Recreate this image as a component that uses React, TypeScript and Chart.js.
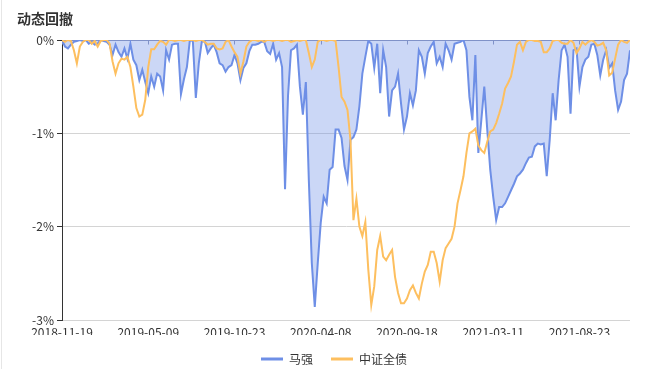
import React, { useEffect, useRef } from 'react';
import { Chart, registerables } from 'chart.js';

Chart.register(...registerables);

// x-axis tick labels (one every 29 samples)
const xTickLabels = ['2018-11-19', '2019-05-09', '2019-10-23', '2020-04-08', '2020-09-18', '2021-03-11', '2021-08-23'];
const samplesPerLabel = 29;

// y-axis ticks (%)
const yTickValues = [0, -1, -2, -3];

const seriesNames = ['马强', '中证全债'];

// 马强 drawdown (%)
const maQiang = [
  0, -0.07, -0.09, -0.05, -0.02, -0.01, 0, -0.01, 0, -0.04,
  -0.02, -0.05, -0.04, 0, -0.01, -0.02, -0.05, -0.16, -0.05, -0.13,
  -0.18, -0.09, -0.2, -0.04, -0.21, -0.27, -0.43, -0.32, -0.45, -0.57,
  -0.39, -0.5, -0.36, -0.39, -0.54, -0.11, -0.21, -0.05, -0.04, -0.04,
  -0.58, -0.42, -0.29, 0, -0.01, -0.62, -0.25, -0.02, -0.01, -0.14,
  -0.09, -0.05, -0.13, -0.25, -0.27, -0.34, -0.29, -0.27, -0.16, -0.25,
  -0.43, -0.3, -0.25, -0.12, -0.05, -0.05, -0.04, -0.02, -0.02, -0.12,
  -0.15, -0.04, -0.21, -0.14, -0.29, -1.6, -0.6, -0.11, -0.09, -0.05,
  -0.5, -0.8, -0.45, -1.5, -2.39, -2.86, -2.39, -1.96, -1.68, -1.75,
  -1.39, -1.36, -0.96, -0.96, -1.05, -1.35, -1.5, -1.07, -1.04, -0.96,
  -0.71, -0.36, -0.18, -0.01, -0.04, -0.3, -0.04, -0.57, -0.11, -0.29,
  -0.82, -0.54, -0.5, -0.36, -0.68, -0.96, -0.82, -0.57, -0.7, -0.54,
  -0.11, -0.18, -0.36, -0.14, -0.07, -0.02, -0.25, -0.18, -0.29, -0.04,
  -0.11, -0.21, -0.04, -0.03, -0.02, 0, -0.11, -0.61, -0.86, -0.16,
  -1.21, -0.86, -0.5, -0.96, -1.39, -1.68, -1.93, -1.79, -1.79, -1.75,
  -1.68, -1.61, -1.54, -1.46, -1.43, -1.39, -1.32, -1.26, -1.25, -1.14,
  -1.11, -1.12, -1.11, -1.46, -1.07, -0.57, -0.86, -0.43, -0.11, -0.05,
  -0.18, -0.79, -0.11, -0.09, -0.5, -0.29, -0.21, -0.18, -0.05, -0.04,
  -0.16, -0.38, -0.21, -0.11, -0.3, -0.25, -0.54, -0.75, -0.66, -0.43,
  -0.36, -0.11,
];

// 中证全债 drawdown (%)
const zhongZheng = [
  0, -0.02, 0, -0.01, -0.11, -0.25, -0.07, -0.02, 0, 0,
  -0.04, -0.01, -0.07, -0.01, 0, 0, -0.04, -0.23, -0.36, -0.25,
  -0.2, -0.21, -0.18, -0.29, -0.5, -0.73, -0.82, -0.8, -0.64, -0.29,
  -0.1, -0.1, -0.05, -0.01, -0.02, -0.05, 0, 0, -0.01, 0,
  0, -0.01, 0, 0, 0, -0.01, 0, 0, -0.02, -0.05,
  -0.04, -0.04, -0.09, -0.1, -0.09, -0.02, 0, -0.07, -0.13, -0.18,
  -0.36, -0.23, -0.07, -0.02, 0, 0, -0.01, 0, -0.02, 0,
  0, -0.01, 0, 0, -0.01, 0, 0, -0.02, -0.01, 0,
  -0.01, 0, 0, -0.14, -0.29, -0.21, -0.02, 0, 0, -0.01,
  0, 0, -0.01, -0.29, -0.61, -0.66, -0.75, -1.07, -1.93, -1.7,
  -2.0, -2.1, -1.95, -2.46, -2.84, -2.64, -2.25, -2.1, -2.32, -2.36,
  -2.3, -2.25, -2.54, -2.71, -2.82, -2.82, -2.77, -2.68, -2.63, -2.71,
  -2.77, -2.61, -2.48, -2.41, -2.27, -2.27, -2.39, -2.59, -2.36, -2.23,
  -2.18, -2.13, -2.0, -1.75, -1.61, -1.46, -1.21, -1.0, -0.98, -0.95,
  -1.13, -1.18, -1.21, -1.09, -0.98, -0.96, -0.89, -0.79, -0.68, -0.52,
  -0.46, -0.39, -0.23, -0.05, -0.02, -0.11, -0.02, 0, 0, -0.01,
  -0.01, -0.02, -0.13, -0.13, -0.09, -0.01, 0, 0, -0.03, -0.04,
  -0.04, 0, -0.03, -0.14, -0.09, -0.02, -0.05, -0.02, 0, -0.02,
  -0.06, -0.05, -0.03, -0.11, -0.38, -0.35, -0.2, -0.05, 0, -0.02,
  -0.03, 0,
];

const BLUE = '#6e8fe6';
const BLUE_FILL = 'rgba(110,143,230,0.36)';
const ORANGE = '#fdbf5f';
const FONT = '"Noto Sans CJK SC", "Noto Sans", sans-serif';

const topAxisPlugin = {
  id: 'topAxis',
  beforeDatasetsDraw(chart: any) {
    const { ctx, chartArea, scales } = chart;
    const xs = scales.x;
    ctx.save();
    ctx.strokeStyle = '#8a93b8';
    ctx.lineWidth = 1;
    ctx.beginPath();
    const y = Math.round(chartArea.top) + 0.5;
    ctx.moveTo(chartArea.left, y);
    ctx.lineTo(chartArea.right, y);
    xs.ticks.forEach((t: any) => {
      const px = Math.round(xs.getPixelForValue(t.value)) + 0.5;
      ctx.moveTo(px, y);
      ctx.lineTo(px, y + 4);
    });
    ctx.stroke();
    ctx.restore();
  },
};

export default function App() {
  const ref = useRef<HTMLCanvasElement>(null);
  useEffect(() => {
    const prev = document.body.style.margin;
    document.body.style.margin = '0';
    const chart = new Chart(ref.current!, {
      type: 'line',
      data: {
        datasets: [
          {
            label: seriesNames[0],
            data: maQiang.map((y, i) => ({ x: i, y })),
            borderColor: BLUE,
            backgroundColor: BLUE_FILL,
            fill: 'origin',
            borderWidth: 2,
            pointRadius: 0,
            tension: 0,
            order: 1,
          },
          {
            label: seriesNames[1],
            data: zhongZheng.map((y, i) => ({ x: i, y })),
            borderColor: ORANGE,
            backgroundColor: ORANGE,
            fill: false,
            borderWidth: 2,
            pointRadius: 0,
            tension: 0,
            order: 0,
          },
        ],
      },
      options: {
        animation: false,
        responsive: false,
        maintainAspectRatio: false,
        layout: { padding: { top: 40, left: 14, right: 0, bottom: 9 } },
        font: { family: FONT },
        scales: {
          x: {
            type: 'linear',
            min: 0,
            max: maQiang.length - 1,
            grid: { display: false, drawTicks: false },
            border: { display: false },
            afterBuildTicks: (s: any) => {
              s.ticks = xTickLabels.map((_, k) => ({ value: k * samplesPerLabel }));
            },
            ticks: {
              autoSkip: false,
              maxRotation: 0,
              padding: 5,
              color: '#333',
              font: { size: 12, family: FONT },
              callback: (v: any) => xTickLabels[Math.round(Number(v) / samplesPerLabel)] ?? '',
            },
            afterFit: (s: any) => {
              s.height = 15;
            },
          },
          y: {
            min: -3,
            max: 0,
            afterBuildTicks: (s: any) => {
              s.ticks = yTickValues.map((v) => ({ value: v }));
            },
            ticks: {
              padding: 3,
              color: '#333',
              font: { size: 12, family: FONT },
              callback: (v: any) => `${v}%`,
            },
            grid: { color: '#d4d4d4', tickColor: '#333', tickLength: 5 },
            border: { color: '#333' },
            afterFit: (s: any) => {
              s.width = 48;
            },
          },
          y2: {
            position: 'right',
            display: true,
            grid: { display: false, drawTicks: false },
            border: { display: false },
            ticks: { display: false },
            afterFit: (s: any) => {
              s.width = 24;
            },
          },
        },
        plugins: {
          legend: {
            position: 'bottom',
            labels: {
              boxWidth: 22,
              boxHeight: 3,
              padding: 18,
              color: '#333',
              font: { size: 12, family: FONT },
              generateLabels: (c: any) =>
                c.data.datasets.map((ds: any, i: number) => ({
                  text: ds.label,
                  fillStyle: ds.borderColor,
                  strokeStyle: ds.borderColor,
                  lineWidth: 0,
                  hidden: false,
                  datasetIndex: i,
                  fontColor: '#333',
                })),
            },
          },
          tooltip: { enabled: false },
        },
      },
      plugins: [topAxisPlugin],
    } as any);
    return () => {
      chart.destroy();
      document.body.style.margin = prev;
    };
  }, []);

  return (
    <div style={{ position: 'relative', width: 654, height: 384, overflow: 'hidden', background: '#fff' }}>
      <div style={{ position: 'absolute', left: 1, top: 0, width: 1, height: 369, background: '#e6e6e6' }} />
      <div
        style={{
          position: 'absolute',
          left: 17,
          top: 8,
          fontFamily: FONT,
          fontWeight: 'bold',
          fontSize: 14,
          color: '#333',
          lineHeight: '20px',
        }}
      >
        动态回撤
      </div>
      <canvas ref={ref} width={654} height={384} style={{ display: 'block', width: 654, height: 384 }} />
    </div>
  );
}
